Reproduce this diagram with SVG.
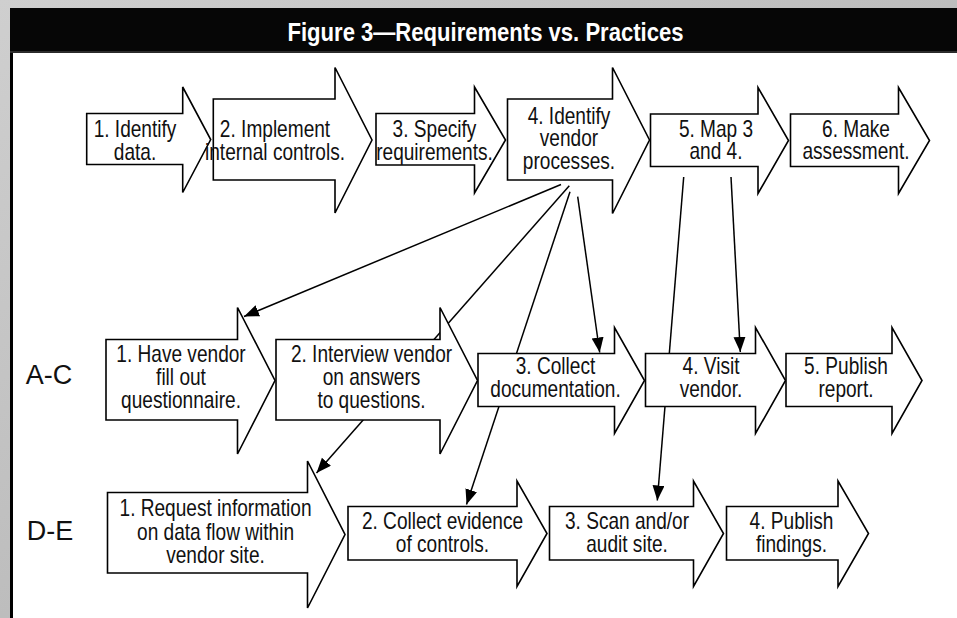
<svg xmlns="http://www.w3.org/2000/svg" width="957" height="618" viewBox="0 0 957 618">
  <defs>
    <linearGradient id="bg" x1="0" y1="0" x2="1" y2="1">
      <stop offset="0" stop-color="#cfcfcf"/>
      <stop offset="0.5" stop-color="#bdbdbd"/>
      <stop offset="1" stop-color="#c9c9c9"/>
    </linearGradient>
    <marker id="ah" markerUnits="userSpaceOnUse" markerWidth="16" markerHeight="13" refX="15" refY="6" orient="auto">
      <path d="M0,0 L15,6 L0,12 Z" fill="#000"/>
    </marker>
    <style>
      .shape { fill: #fff; stroke: #000; stroke-width: 1.6; stroke-linejoin: miter; }
      .t text { font-family: "Liberation Sans", Arial, sans-serif; font-size: 23px; text-anchor: middle; fill: #111; }
      .lbl { font-family: "Liberation Sans", Arial, sans-serif; font-size: 27px; text-anchor: middle; fill: #111; }
      .title { font-family: "Liberation Sans", Arial, sans-serif; font-size: 25px; font-weight: bold; text-anchor: middle; fill: #fff; }
      .conn line { stroke: #000; stroke-width: 1.5; }
      .conn line.a { marker-end: url(#ah); }
    </style>
  </defs>

  <!-- background -->
  <rect x="0" y="0" width="957" height="618" fill="url(#bg)"/>
  <rect x="10" y="51" width="947" height="567" fill="#000"/>
  <rect x="13" y="53" width="944" height="565" fill="#fff"/>
  <rect x="10" y="8" width="947" height="44" fill="#060606"/>
  <line x1="10" y1="52" x2="957" y2="52" stroke="#555" stroke-width="1"/>
  <text class="title" x="485.5" y="41" textLength="396" lengthAdjust="spacingAndGlyphs">Figure 3—Requirements vs. Practices</text>

  <!-- connectors (drawn beneath nodes) -->
  <g id="connectors" class="conn">
    <line class="a" x1="561" y1="184.5" x2="244" y2="316.5"/>
    <line class="a" x1="569.3" y1="185.7" x2="316.5" y2="473"/>
    <line class="a" x1="570" y1="191.7" x2="466.5" y2="504.5"/>
    <line class="a" x1="577.7" y1="196.7" x2="599.7" y2="352.5"/>
    <line class="a" x1="683.7" y1="177" x2="657.3" y2="500.5"/>
    <line class="a" x1="731" y1="177" x2="740.3" y2="352"/>
  </g>

  <!-- top row -->
  <g id="top1">
    <polygon class="shape" points="86.7,113.5 182.7,113.5 182.7,87 210.7,139.5 182.7,192.5 182.7,164.5 86.7,164.5"/>
    <g class="t" transform="translate(135 0) scale(0.83 1)">
      <text y="137">1. Identify</text>
      <text y="160">data.</text>
    </g>
  </g>
  <g id="top2">
    <polygon class="shape" points="213.3,99 335,99 335,67.5 372,140 335,213 335,180 213.3,180"/>
    <g class="t" transform="translate(275 0) scale(0.83 1)">
      <text y="137">2. Implement</text>
      <text y="160">internal controls.</text>
    </g>
  </g>
  <g id="top3">
    <polygon class="shape" points="376,113.5 474.5,113.5 474.5,87 505.5,140 474.5,193 474.5,165 376,165"/>
    <g class="t" transform="translate(434.5 0) scale(0.83 1)">
      <text y="137">3. Specify</text>
      <text y="160">requirements.</text>
    </g>
  </g>
  <g id="top4">
    <polygon class="shape" points="507.5,99 612.5,99 612.5,67.5 649.5,140 612.5,213.5 612.5,180 507.5,180"/>
    <g class="t" transform="translate(569 0) scale(0.83 1)">
      <text y="124">4. Identify</text>
      <text y="146.5">vendor</text>
      <text y="169">processes.</text>
    </g>
  </g>
  <g id="top5">
    <polygon class="shape" points="650.5,114 758,114 758,87.5 788.5,140.5 758,193.5 758,166.5 650.5,166.5"/>
    <g class="t" transform="translate(716 0) scale(0.83 1)">
      <text y="137">5. Map 3</text>
      <text y="159.5">and 4.</text>
    </g>
  </g>
  <g id="top6">
    <polygon class="shape" points="790.5,114 898.5,114 898.5,87.5 929.5,140.5 898.5,193.5 898.5,166.5 790.5,166.5"/>
    <g class="t" transform="translate(856 0) scale(0.83 1)">
      <text y="137">6. Make</text>
      <text y="159.5">assessment.</text>
    </g>
  </g>

  <!-- A-C row -->
  <text id="label-ac" class="lbl" x="49" y="384">A-C</text>
  <g id="ac1">
    <polygon class="shape" points="106,339.5 237.5,339.5 237.5,307.5 275,380.5 237.5,454 237.5,420 106,420"/>
    <g class="t" transform="translate(181 0) scale(0.83 1)">
      <text y="362">1. Have vendor</text>
      <text y="385">fill out</text>
      <text y="408">questionnaire.</text>
    </g>
  </g>
  <g id="ac2">
    <polygon class="shape" points="276,339.5 440,339.5 440,307.5 477.5,380.5 440,454 440,420 276,420"/>
    <g class="t" transform="translate(371.5 0) scale(0.83 1)">
      <text y="362">2. Interview vendor</text>
      <text y="385">on answers</text>
      <text y="408">to questions.</text>
    </g>
  </g>
  <g id="ac3">
    <polygon class="shape" points="478,353.5 614.5,353.5 614.5,327.5 644.5,380.5 614.5,433.5 614.5,406.5 478,406.5"/>
    <g class="t" transform="translate(555.5 0) scale(0.83 1)">
      <text y="374">3. Collect</text>
      <text y="397">documentation.</text>
    </g>
  </g>
  <g id="ac4">
    <polygon class="shape" points="645.5,353.5 755.5,353.5 755.5,327.5 785.5,380.5 755.5,433.5 755.5,406.5 645.5,406.5"/>
    <g class="t" transform="translate(711 0) scale(0.83 1)">
      <text y="374">4. Visit</text>
      <text y="397">vendor.</text>
    </g>
  </g>
  <g id="ac5">
    <polygon class="shape" points="786,353.5 892,353.5 892,327.5 922,380.5 892,433.5 892,406.5 786,406.5"/>
    <g class="t" transform="translate(846 0) scale(0.83 1)">
      <text y="374">5. Publish</text>
      <text y="397">report.</text>
    </g>
  </g>

  <!-- D-E row -->
  <text id="label-de" class="lbl" x="50" y="540">D-E</text>
  <g id="de1">
    <polygon class="shape" points="107.5,492.5 307.5,492.5 307.5,461 345,534.5 307.5,608 307.5,573 107.5,573"/>
    <g class="t" transform="translate(215.5 0) scale(0.83 1)">
      <text y="516.5">1. Request information</text>
      <text y="540">on data flow within</text>
      <text y="563">vendor site.</text>
    </g>
  </g>
  <g id="de2">
    <polygon class="shape" points="348,506.5 517,506.5 517,481 547,533.5 517,586.5 517,560 348,560"/>
    <g class="t" transform="translate(442.5 0) scale(0.83 1)">
      <text y="529">2. Collect evidence</text>
      <text y="552">of controls.</text>
    </g>
  </g>
  <g id="de3">
    <polygon class="shape" points="549.5,506.5 693.5,506.5 693.5,481 723.5,533.5 693.5,586.5 693.5,560 549.5,560"/>
    <g class="t" transform="translate(627 0) scale(0.83 1)">
      <text y="529">3. Scan and/or</text>
      <text y="552">audit site.</text>
    </g>
  </g>
  <g id="de4">
    <polygon class="shape" points="726.5,506.5 838,506.5 838,481 868.5,533.5 838,586.5 838,560 726.5,560"/>
    <g class="t" transform="translate(791.5 0) scale(0.83 1)">
      <text y="529">4. Publish</text>
      <text y="552">findings.</text>
    </g>
  </g>
</svg>
